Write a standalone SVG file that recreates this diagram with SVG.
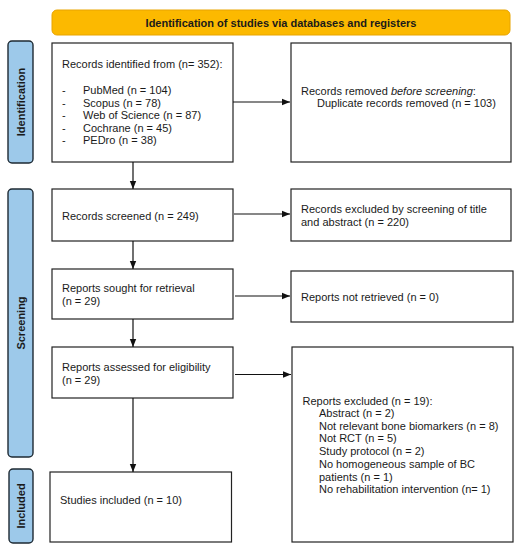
<svg xmlns="http://www.w3.org/2000/svg" width="521" height="550" viewBox="0 0 521 550">
<style>
text{font-family:"Liberation Sans",Arial,sans-serif;font-size:11px;fill:#1a1a1a}
.b{font-weight:bold}
.box{fill:#fff;stroke:#222;stroke-width:1.2}
.side{fill:#9dc9ea;stroke:#1e2a33;stroke-width:1.4}
.ln{stroke:#111;stroke-width:1.2;fill:none}
</style>
<defs>
<marker id="ah" viewBox="0 0 8 8" refX="8" refY="4" markerWidth="8" markerHeight="8" markerUnits="userSpaceOnUse" orient="auto">
<path d="M0,0.8 L8,4 L0,7.2 z" fill="#111"/>
</marker>
</defs>
<g id="header">
<rect x="52" y="10" width="458" height="25" rx="5" fill="#fcb900" stroke="#e8a400" stroke-width="1"/>
<text class="b" x="281" y="26.5" text-anchor="middle">Identification of studies via databases and registers</text>
</g>
<g id="side-identification">
<rect class="side" x="8" y="41" width="25" height="122" rx="4"/>
<text class="b" transform="translate(24.5,102) rotate(-90)" text-anchor="middle">Identification</text>
</g>
<g id="side-screening">
<rect class="side" x="8" y="189" width="25" height="268" rx="4"/>
<text class="b" transform="translate(24.5,323) rotate(-90)" text-anchor="middle">Screening</text>
</g>
<g id="side-included">
<rect class="side" x="9" y="469" width="24" height="74" rx="4"/>
<text class="b" transform="translate(24.5,506) rotate(-90)" text-anchor="middle">Included</text>
</g>
<g id="box-identified">
<rect class="box" x="52" y="43" width="181" height="119"/>
<text x="62" y="68">Records identified from (n= 352):</text>
<text x="62" y="94">-</text><text x="83" y="94">PubMed (n = 104)</text>
<text x="62" y="107">-</text><text x="83" y="107">Scopus (n = 78)</text>
<text x="62" y="119">-</text><text x="83" y="119">Web of Science (n = 87)</text>
<text x="62" y="132">-</text><text x="83" y="132">Cochrane (n = 45)</text>
<text x="62" y="144">-</text><text x="83" y="144">PEDro (n = 38)</text>
</g>
<g id="box-removed">
<rect class="box" x="291" y="43" width="220" height="119"/>
<text x="301" y="94.5">Records removed <tspan font-style="italic">before screening</tspan>:</text>
<text x="317" y="106.5">Duplicate records removed (n = 103)</text>
</g>
<g id="box-screened">
<rect class="box" x="52" y="189" width="181" height="52"/>
<text x="62" y="219.5">Records screened (n = 249)</text>
</g>
<g id="box-excluded-title">
<rect class="box" x="291" y="189" width="220" height="52"/>
<text x="301" y="213">Records excluded by screening of title</text>
<text x="301" y="226">and abstract (n = 220)</text>
</g>
<g id="box-sought">
<rect class="box" x="52" y="269" width="181" height="50"/>
<text x="62" y="292">Reports sought for retrieval</text>
<text x="62" y="305">(n = 29)</text>
</g>
<g id="box-not-retrieved">
<rect class="box" x="291" y="271" width="222" height="51"/>
<text x="301" y="300.5">Reports not retrieved (n = 0)</text>
</g>
<g id="box-assessed">
<rect class="box" x="52" y="347" width="181" height="51"/>
<text x="62" y="370.5">Reports assessed for eligibility</text>
<text x="62" y="384">(n = 29)</text>
</g>
<g id="box-reports-excluded">
<rect class="box" x="292" y="347" width="221" height="195"/>
<text x="302.5" y="404.5">Reports excluded (n = 19):</text>
<text x="319" y="417">Abstract (n = 2)</text>
<text x="319" y="429.5">Not relevant bone biomarkers (n = 8)</text>
<text x="319" y="442">Not RCT (n = 5)</text>
<text x="319" y="455">Study protocol (n = 2)</text>
<text x="319" y="467.5">No homogeneous sample of BC</text>
<text x="319" y="480.5">patients (n = 1)</text>
<text x="319" y="493">No rehabilitation intervention (n= 1)</text>
</g>
<g id="box-included">
<rect class="box" x="50" y="472" width="181.5" height="70"/>
<text x="60" y="504">Studies included (n = 10)</text>
</g>
<g id="connectors">
<line class="ln" x1="133" y1="162" x2="133" y2="189" marker-end="url(#ah)"/>
<line class="ln" x1="133" y1="241" x2="133" y2="269" marker-end="url(#ah)"/>
<line class="ln" x1="133" y1="319" x2="133" y2="347" marker-end="url(#ah)"/>
<line class="ln" x1="133" y1="398" x2="133" y2="472" marker-end="url(#ah)"/>
<line class="ln" x1="233" y1="102" x2="290" y2="102" marker-end="url(#ah)"/>
<line class="ln" x1="234" y1="214" x2="290" y2="214" marker-end="url(#ah)"/>
<line class="ln" x1="235" y1="296" x2="290" y2="296" marker-end="url(#ah)"/>
<line class="ln" x1="235" y1="374.5" x2="291" y2="374.5" marker-end="url(#ah)"/>
</g>
</svg>
